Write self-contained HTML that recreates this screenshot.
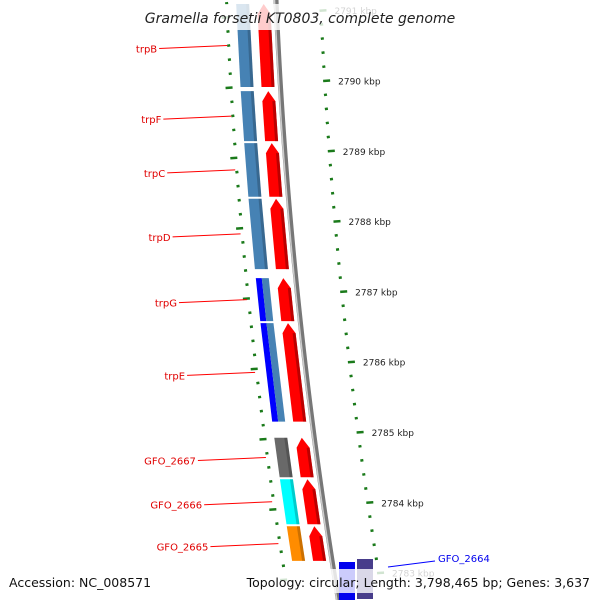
<!DOCTYPE html>
<html><head><meta charset="utf-8"><style>
html,body{margin:0;padding:0;background:#fff;width:600px;height:600px;overflow:hidden}
svg{display:block;font-family:"DejaVu Sans","Liberation Sans",sans-serif}
</style></head><body>
<svg id="map" width="600" height="600" viewBox="0 0 600 600">
<defs>
<linearGradient id="bbg" x1="0" x2="1" y1="0" y2="0"><stop offset="0" stop-color="#c8c8c8"/><stop offset="0.5" stop-color="#888"/><stop offset="1" stop-color="#666"/></linearGradient>
</defs>
<g id="layer"></g>
<rect x="0" y="4" width="600" height="26" fill="#fff" fill-opacity="0.8"/>
<text x="300" y="23" text-anchor="middle" font-size="14" font-style="italic" fill="#222">Gramella forsetii KT0803, complete genome</text>
<rect x="0" y="569" width="600" height="24" fill="#fff" fill-opacity="0.8"/>
<text x="9" y="587" font-size="12.5" fill="#111">Accession: NC_008571</text>
<text x="590" y="587" text-anchor="end" font-size="12.5" fill="#111">Topology: circular; Length: 3,798,465 bp; Genes: 3,637</text>
</svg>
<script>
const geneNames=["trpB","trpF","trpC","trpD","trpG","trpE","GFO_2667","GFO_2666","GFO_2665"];
const geneStarts=[2789.90,2789.13,2788.34,2787.31,2786.57,2785.14,2784.35,2783.68,2783.16];
const geneEnds=[2791.11,2789.87,2789.13,2788.34,2787.21,2786.57,2784.94,2784.35,2783.68];
const cogColors=["#4682b4","#4682b4","#4682b4","#4682b4","#0000ff|#4682b4","#0000ff|#4682b4","#696969","#00ffff","#ff8c00"];
const tickKbp=[2791,2790,2789,2788,2787,2786,2785,2784,2783];
const tickLabels=["2791 kbp","2790 kbp","2789 kbp","2788 kbp","2787 kbp","2786 kbp","2785 kbp","2784 kbp","2783 kbp"];
const layer=document.getElementById('layer');
const NS='http://www.w3.org/2000/svg';
function Y(k){return 81+(2790-k)*70.3;}
function BB(y){return 277+0.0428*y+0.000102*y*y;}
function mk(t,a){const e=document.createElementNS(NS,t);for(const k in a)e.setAttribute(k,a[k]);layer.appendChild(e);return e;}
function band(y1,y2,o1,o2){return [[BB(y1)+o1,y1],[BB(y1)+o2,y1],[BB(y2)+o2,y2],[BB(y2)+o1,y2]].map(p=>p.join(',')).join(' ');}
// backbone
const bbPts=[];for(let y=-5;y<=605;y+=10)bbPts.push([BB(y),y]);
let bl=mk('polyline',{points:bbPts.map(p=>(p[0]-1)+','+p[1]).join(' '),fill:'none',stroke:'#777',"stroke-width":5});


let bl2=mk('polyline',{points:bbPts.map(p=>(p[0]-2.5)+','+p[1]).join(' '),fill:'none',stroke:'#ccc',"stroke-width":1.5});


// ruler dots
for(let k=2783;k<=2791.2;k+=0.2){const y=Y(k);const major=Math.abs(k-Math.round(k))<0.01;const w=major?7:3;
 let d1=mk('line',{x1:BB(y)+42,y1:y,x2:BB(y)+42+w,y2:y-0.5,stroke:'#1a7a1a',"stroke-width":2.5});
 
 
 const yi=y+7;
 let d2=mk('line',{x1:BB(yi)-49-w,y1:yi,x2:BB(yi)-49,y2:yi-0.5,stroke:'#1a7a1a',"stroke-width":2.5});
 
 }
tickKbp.forEach((k,i)=>{const y=Y(k);let t=mk('text',{x:BB(y)+57,y:y+3.5,"font-size":9,fill:'#222'});t.textContent=tickLabels[i];
 
 });
// genes
geneNames.forEach((n,i)=>{const ya=Y(geneEnds[i])+1,yb=Y(geneStarts[i])-1;
 const cols=cogColors[i].split('|');
 if(cols.length==1){
  let r=mk('polygon',{points:band(ya,yb,-41,-28),fill:cols[0]});
  let s=mk('polygon',{points:band(ya,yb,-31,-28),fill:'#000',"fill-opacity":0.2});
 }else{
  let r=mk('polygon',{points:band(ya,yb,-41,-35),fill:cols[0]});
  let r2=mk('polygon',{points:band(ya,yb,-35,-28),fill:cols[1]});
 }
 const h=Math.min(10,(yb-ya)/3);
 const pts=[[BB(yb)-20,yb],[BB(ya+h)-20,ya+h],[BB(ya)-13.5,ya],[BB(ya+h)-7,ya+h],[BB(yb)-7,yb]];
 let a=mk('polygon',{points:pts.map(p=>p.join(',')).join(' '),fill:'#ff0000'});
 
 
 let sh=mk('polygon',{points:band(ya+h,yb,-10,-7),fill:'#a00000',"fill-opacity":0.7});
 
 
 const lm=(ya+yb)/2, lx=BB(lm)-52;
 let ln=mk('line',{x1:lx-68,y1:lm+3,x2:lx,y2:lm,stroke:'#f00',"stroke-width":1});
 
 
 let t=mk('text',{x:lx-70,y:lm+7,"text-anchor":'end',"font-size":10,fill:'#e00000'});t.textContent=n;
 
 
});
// GFO_2664
let g1=mk('rect',{x:339,y:562,width:16,height:40,fill:'#0000ee'});
let g2=mk('rect',{x:357,y:559,width:16,height:40,fill:'#483d8b'});
let gl=mk('line',{x1:388,y1:567,x2:435,y2:561,stroke:'#00f',"stroke-width":1});
let gt=mk('text',{x:438,y:562,"font-size":10,fill:'#0000ee'});gt.textContent='GFO_2664';
</script>
</body></html>
